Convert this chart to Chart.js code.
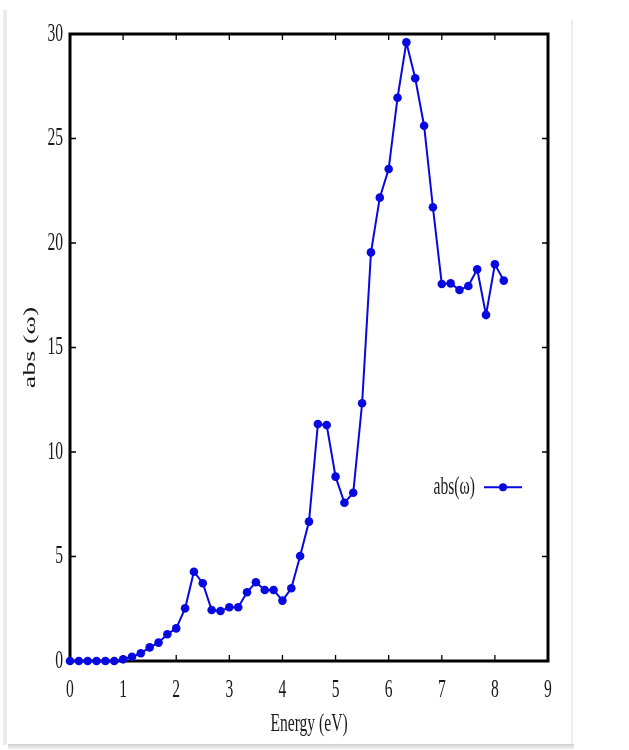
<!DOCTYPE html>
<html>
<head>
<meta charset="utf-8">
<title>abs(ω) vs Energy</title>
<script src="https://cdn.jsdelivr.net/npm/chart.js@4.4.1/dist/chart.umd.min.js"></script>
<style>
  html, body { margin: 0; padding: 0; background: #ffffff; }
  #wrap { position: relative; width: 629px; height: 750px; }
</style>
</head>
<body>
<div id="wrap"><canvas id="chart" width="629" height="750"></canvas></div>
<script>
// Photon energy (eV) of each sample
const energy = [
  0.000, 0.167, 0.333, 0.500, 0.667, 0.833, 1.000, 1.167, 1.333, 1.500,
  1.667, 1.833, 2.000, 2.167, 2.333, 2.500, 2.667, 2.833, 3.000, 3.167,
  3.333, 3.500, 3.667, 3.833, 4.000, 4.167, 4.333, 4.500, 4.667, 4.833,
  5.000, 5.167, 5.333, 5.500, 5.667, 5.833, 6.000, 6.167, 6.333, 6.500,
  6.667, 6.833, 7.000, 7.167, 7.333, 7.500, 7.667, 7.833, 8.000, 8.167
];

// Absorption abs(ω) at each energy
const absorption = [
  0.00, 0.00, 0.00, 0.00, 0.00, 0.00, 0.08, 0.20, 0.37, 0.65,
  0.88, 1.28, 1.56, 2.52, 4.27, 3.72, 2.44, 2.39, 2.57, 2.57,
  3.29, 3.77, 3.40, 3.40, 2.89, 3.48, 5.02, 6.67, 11.34, 11.29,
  8.82, 7.57, 8.05, 12.33, 19.55, 22.17, 23.54, 26.95, 29.60, 27.88,
  25.61, 21.71, 18.04, 18.07, 17.75, 17.94, 18.74, 16.56, 18.98, 18.20
];

const seriesLabel = 'abs(ω)';
const xTitle = 'Energy (eV)';
const yTitle = 'abs (ω)';
const xTicks = [0, 1, 2, 3, 4, 5, 6, 7, 8, 9];
const yTicks = [0, 5, 10, 15, 20, 25, 30];

const lineBlue = '#0808e0';
const serif = "'Liberation Serif', 'DejaVu Serif', serif";

const canvas = document.getElementById('chart');
const ctx = canvas.getContext('2d');

// Narrow serif look: every string is condensed horizontally (in screen space) around its anchor.
const squeeze = 0.6;
const nativeFillText = CanvasRenderingContext2D.prototype.fillText;
ctx.fillText = function (text, x, y, maxWidth) {
  const m = this.getTransform();
  const px = m.a * x + m.c * y + m.e;
  const py = m.b * x + m.d * y + m.f;
  this.save();
  this.setTransform(new DOMMatrix().translate(px, py).scale(squeeze, 1).translate(-px, -py).multiply(m));
  if (maxWidth === undefined) nativeFillText.call(this, text, x, y);
  else nativeFillText.call(this, text, x, y, maxWidth);
  this.restore();
};

// Light page edge around the figure
const pageEdge = {
  id: 'pageEdge',
  beforeDraw(chart) {
    const c = chart.ctx;
    c.save();
    c.fillStyle = '#ffffff';
    c.fillRect(0, 0, chart.width, chart.height);
    c.fillStyle = '#ebebeb';
    c.fillRect(3, 10, 4, 735);
    c.fillStyle = '#ececec';
    c.fillRect(571, 20, 2, 725);
    const g = c.createLinearGradient(0, 744, 0, 749);
    g.addColorStop(0, '#d0d0d0');
    g.addColorStop(1, '#f2f2f2');
    c.fillStyle = g;
    c.fillRect(8, 744, 566, 5);
    c.restore();
  }
};

// Heavy box around the plot area with inward tick marks on all four sides
const frameBox = {
  id: 'frameBox',
  beforeDatasetsDraw(chart) {
    const { left, right, top, bottom } = chart.chartArea;
    const xs = chart.scales.x, ys = chart.scales.y;
    const c = chart.ctx;
    const tl = 6;
    c.save();
    c.strokeStyle = '#000000';
    c.lineWidth = 1.3;
    c.beginPath();
    xs.ticks.forEach((t, i) => {
      const px = xs.getPixelForTick(i);
      c.moveTo(px, bottom); c.lineTo(px, bottom - tl);
      c.moveTo(px, top); c.lineTo(px, top + tl);
    });
    ys.ticks.forEach((t, i) => {
      const py = ys.getPixelForTick(i);
      c.moveTo(left, py); c.lineTo(left + tl, py);
      c.moveTo(right, py); c.lineTo(right - tl, py);
    });
    c.stroke();
    c.lineWidth = 3;
    c.lineJoin = 'miter';
    c.strokeRect(left, top, right - left, bottom - top);
    c.restore();
  }
};

// Key placed inside the plot, at the right
const innerKey = {
  id: 'innerKey',
  afterDatasetsDraw(chart) {
    const { right, top, bottom } = chart.chartArea;
    const ds = chart.data.datasets[0];
    const c = chart.ctx;
    const y = top + (bottom - top) * 0.723;
    const x1 = right - 64, x2 = right - 26;
    c.save();
    c.strokeStyle = ds.borderColor;
    c.lineWidth = 2;
    c.beginPath();
    c.moveTo(x1, y); c.lineTo(x2, y);
    c.stroke();
    c.fillStyle = ds.pointBackgroundColor;
    c.beginPath();
    c.arc((x1 + x2) / 2, y, 4, 0, Math.PI * 2);
    c.fill();
    c.font = '26px ' + serif;
    c.fillStyle = '#1a1a1a';
    c.textAlign = 'right';
    c.textBaseline = 'middle';
    c.fillText(ds.label, x1 - 9, y);
    c.restore();
  }
};

new Chart(ctx, {
  type: 'line',
  data: {
    datasets: [{
      label: seriesLabel,
      data: energy.map((e, i) => ({ x: e, y: absorption[i] })),
      borderColor: lineBlue,
      backgroundColor: lineBlue,
      pointBackgroundColor: lineBlue,
      pointBorderColor: lineBlue,
      borderWidth: 2,
      pointRadius: 4.3,
      pointBorderWidth: 0,
      tension: 0,
      clip: false
    }]
  },
  options: {
    responsive: false,
    animation: false,
    events: [],
    layout: { padding: { left: 0, right: 81, top: 34, bottom: 0 } },
    plugins: {
      legend: { display: false },
      tooltip: { enabled: false }
    },
    scales: {
      x: {
        type: 'linear',
        min: 0,
        max: 9,
        afterBuildTicks(scale) { scale.ticks = xTicks.map(v => ({ value: v })); },
        afterFit(scale) { scale.height = 89; },
        grid: { display: false, drawTicks: false },
        border: { display: false },
        ticks: {
          padding: 14,
          color: '#1a1a1a',
          font: { family: serif, size: 26 },
          maxRotation: 0,
          autoSkip: false
        },
        title: {
          display: true,
          text: xTitle,
          color: '#1a1a1a',
          font: { family: serif, size: 26 },
          padding: { top: 0, bottom: 10 }
        }
      },
      y: {
        type: 'linear',
        min: 0,
        max: 30,
        afterBuildTicks(scale) { scale.ticks = yTicks.map(v => ({ value: v })); },
        afterFit(scale) { scale.width = 70; },
        grid: { display: false, drawTicks: false },
        border: { display: false },
        ticks: {
          padding: 7,
          color: '#1a1a1a',
          font: { family: serif, size: 26 },
          autoSkip: false
        },
        title: {
          display: true,
          text: yTitle,
          color: '#1a1a1a',
          font: { family: serif, size: 28 },
          padding: { top: 14, bottom: 0 }
        }
      }
    }
  },
  plugins: [pageEdge, frameBox, innerKey]
});
</script>
</body>
</html>
